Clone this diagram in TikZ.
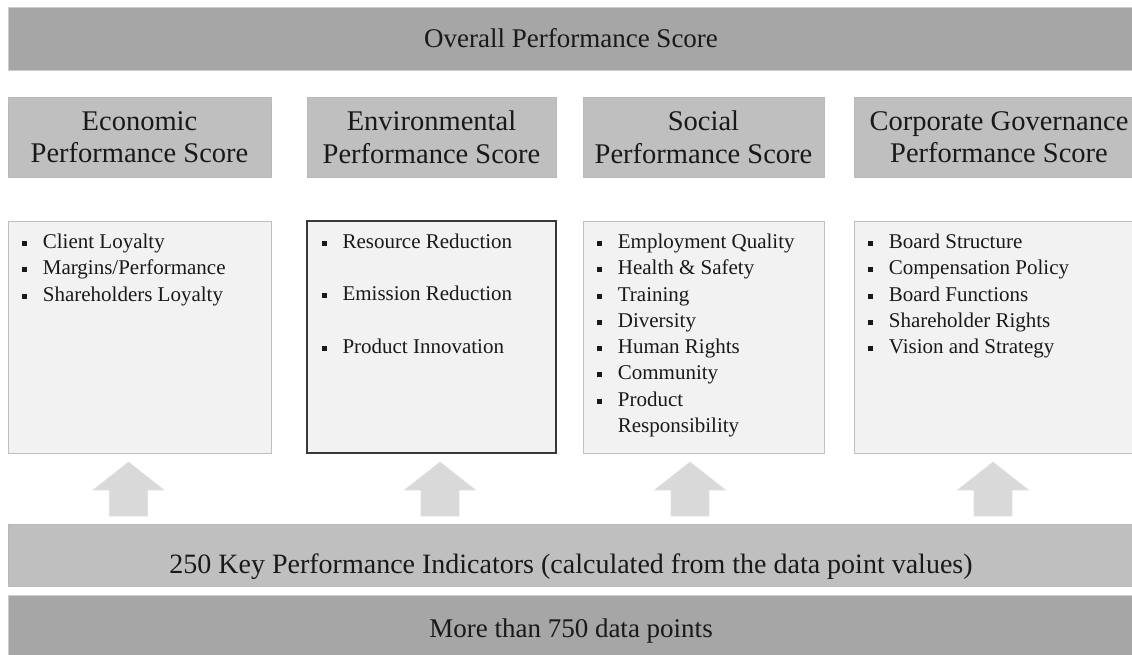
\documentclass[tikz,border=0pt]{standalone}
\usepackage{fontspec}
\setmainfont{Liberation Serif}
\usetikzlibrary{positioning}

\definecolor{bardark}{HTML}{A6A6A6}
\definecolor{barmid}{HTML}{BFBFBF}
\definecolor{boxfill}{HTML}{F2F2F2}
\definecolor{arrowfill}{HTML}{D9D9D9}

% square bullet with a fixed hanging width
\newcommand{\bul}{\makebox[21pt][l]{\rule[2.5pt]{5pt}{5pt}}}

\tikzset{
  darkbar/.style={rectangle, fill=bardark, draw=black!20, line width=0.6pt, inner sep=0pt,
    text=black!90, font=\fontsize{27}{31}\selectfont},
  midbar/.style={rectangle, fill=barmid, draw=black!28, line width=0.6pt, inner sep=0pt,
    text=black!90, font=\fontsize{28}{32}\selectfont},
  scorebox/.style={midbar, align=center, minimum height=80pt, font=\fontsize{28.5}{32.5}\selectfont},
  itembox/.style={rectangle, fill=boxfill, draw=black!25, line width=0.7pt, minimum height=232pt},
  itemlist/.style={inner sep=0pt, align=left, text=black!90, font=\fontsize{21}{26.3}\selectfont},
  uparrow/.style={fill=arrowfill, draw=black!12, line width=0.6pt}
}

\begin{document}
\begin{tikzpicture}[x=1pt,y=-1pt]
  \useasboundingbox (0,0) rectangle (1132,654);
  \clip (0,0) rectangle (1132,654);

  % overall score bar
  \node[darkbar, minimum width=1126pt, minimum height=63pt] (overall) at (571,38.5) {Overall Performance Score};

  % the four pillar scores
  \node[scorebox, minimum width=263pt] (econ) at (139.5,137) {Economic\\Performance Score};
  \node[scorebox, minimum width=249pt] (env) at (431.5,137) {Environmental\\Performance Score};
  \node[scorebox, minimum width=241pt] (soc) at (703.5,137) {Social\\Performance Score};
  \node[scorebox, minimum width=290pt] (corp) at (999,137) {Corporate Governance\\Performance Score};

  % indicator boxes under each pillar
  \node[itembox, minimum width=263pt] (econbox) at (139.5,337) {};
  \node[itembox, minimum width=249pt, draw=black!78, line width=1.4pt] (envbox) at (431.5,337) {};
  \node[itembox, minimum width=241pt] (socbox) at (703.5,337) {};
  \node[itembox, minimum width=290pt] (corpbox) at (999,337) {};

  % bullet lists
  \node[itemlist, below right=13pt and 14pt of econbox.north west] (econlist)
    {\bul Client Loyalty\\ \bul Margins/Performance\\ \bul Shareholders Loyalty};
  \node[itemlist, below right=13pt and 15pt of envbox.north west] (envlist)
    {\bul Resource Reduction\\[26.3pt] \bul Emission Reduction\\[26.3pt] \bul Product Innovation};
  \node[itemlist, below right=13pt and 14pt of socbox.north west] (soclist)
    {\bul Employment Quality\\ \bul Health \& Safety\\ \bul Training\\ \bul Diversity\\
     \bul Human Rights\\ \bul Community\\ \bul Product\\ \hspace*{21pt}Responsibility};
  \node[itemlist, below right=13pt and 14pt of corpbox.north west] (corplist)
    {\bul Board Structure\\ \bul Compensation Policy\\ \bul Board Functions\\
     \bul Shareholder Rights\\ \bul Vision and Strategy};

  % block arrows feeding the pillars
  \foreach \x in {128.5,440,690,993}
    \filldraw[uparrow] (\x-19,516) -- (\x-19,490) -- (\x-35.5,490) -- (\x,462)
      -- (\x+35.5,490) -- (\x+19,490) -- (\x+19,516) -- cycle;

  % indicator and data point bars
  \node[midbar, minimum width=1126pt, minimum height=62pt, text height=37pt, text depth=0pt] (kpi) at (571,555)
    {250 Key Performance Indicators (calculated from the data point values)};
  \node[darkbar, minimum width=1126pt, minimum height=71pt] (data) at (571,630.5) {More than 750 data points};
\end{tikzpicture}
\end{document}
